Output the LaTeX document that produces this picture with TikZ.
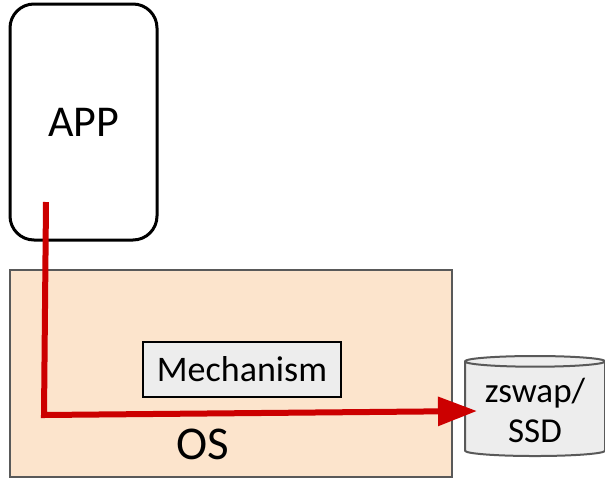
\documentclass[tikz,border=0pt]{standalone}
\usepackage{fontspec}
\setmainfont{Carlito}
\usetikzlibrary{arrows.meta,shapes.geometric}

\definecolor{ospeach}{RGB}{252,228,204}
\definecolor{boxgray}{RGB}{237,237,237}
\definecolor{edgegray}{RGB}{89,89,89}
\definecolor{flowred}{RGB}{204,0,0}

\begin{document}
\begin{tikzpicture}[x=1pt,y=-1pt,
  appbox/.style={draw=black,line width=3pt,rounded corners=24pt,fill=white,
    minimum width=147pt,minimum height=236pt,font=\fontsize{44}{50}\selectfont},
  osbox/.style={draw=edgegray,line width=2.5pt,fill=ospeach,
    minimum width=442pt,minimum height=207pt},
  mechbox/.style={draw=black,line width=1.8pt,fill=boxgray,
    minimum width=198pt,minimum height=55pt,font=\fontsize{36}{40}\selectfont},
  store/.style={cylinder,shape border rotate=90,aspect=0.1,draw=edgegray,
    line width=2pt,fill=boxgray,minimum width=140pt,minimum height=100pt,
    align=center,font=\fontsize{35}{40}\selectfont},
  flow/.style={draw=flowred,line width=6pt,line join=miter,
    -{Triangle[length=39pt,width=28pt]}}]

\useasboundingbox (0,0) rectangle (605,480);

% 1. OS layer with the mechanism inside
\node[osbox] (os) at (231,373.5) {};
\node[font=\fontsize{47}{50}\selectfont] (oslabel) at (203,444) {OS};
\node[mechbox] (mech) at (242,369.5) {Mechanism};

% 2. Application on top
\node[appbox] (app) at (83.5,122) {APP};

% 3. Backing store
\node[store] (db) at (535,410) {zswap/\\SSD};

% 4. Red path from the app down through the OS into the store
\coordinate (start) at (46,202);
\coordinate (bend) at (44,415);
\coordinate (tip) at (477,411);
\draw[flow] (start) -- (bend) -- (tip);

\end{tikzpicture}
\end{document}
